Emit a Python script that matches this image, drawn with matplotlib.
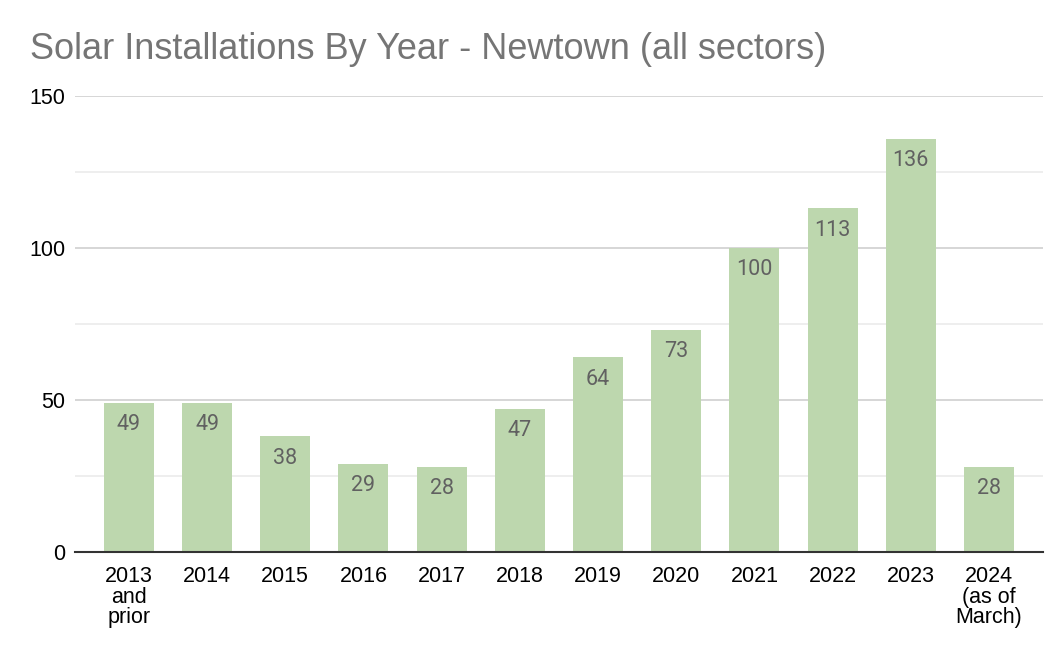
import matplotlib.pyplot as plt
import numpy as np

years = ["2013\nand\nprior", "2014", "2015", "2016", "2017", "2018",
         "2019", "2020", "2021", "2022", "2023", "2024\n(as of\nMarch)"]
installs = [49, 49, 38, 29, 28, 47, 64, 73, 100, 113, 136, 28]

plt.rcParams['font.family'] = ['Liberation Sans', 'DejaVu Sans']

fig = plt.figure(figsize=(10.62, 6.52), dpi=100)
ax = fig.add_axes([0.0706, 0.1534, 0.9114, 0.6994])

x = np.arange(len(years))
bars = ax.bar(x, installs, width=0.64, color='#bdd7ae', zorder=3)

for xi, v in zip(x, installs):
    ax.annotate(str(v), (xi, v), xytext=(0, -8), textcoords='offset points',
                ha='center', va='top', fontsize=15.5, color='#616161',
                family=['Roboto', 'DejaVu Sans'], zorder=4)

ax.set_xlim(-0.69, len(years) - 1 + 0.69)
ax.set_ylim(0, 150)
ax.set_yticks([0, 50, 100, 150])
ax.set_yticks([25, 75, 125], minor=True)
ax.grid(axis='y', which='major', color='#d0d0d0', linewidth=1.2, zorder=0)
ax.grid(axis='y', which='minor', color='#ebebeb', linewidth=1.2, zorder=0)
ax.tick_params(axis='both', which='both', length=0, labelsize=15.5, colors='black')
ax.tick_params(axis='y', pad=7)
ax.tick_params(axis='x', pad=10)
ax.set_xticks(x)
ax.set_xticklabels(years, linespacing=0.98)

for s in ['top', 'right', 'left']:
    ax.spines[s].set_visible(False)
ax.spines['bottom'].set_color('#333333')
ax.spines['bottom'].set_linewidth(1.5)
ax.spines['bottom'].set_zorder(5)

fig.text(0.028, 0.91, "Solar Installations By Year - Newtown (all sectors)",
         fontsize=26, color='#757575', ha='left', va='baseline')

fig.savefig('out.png', dpi=100)
